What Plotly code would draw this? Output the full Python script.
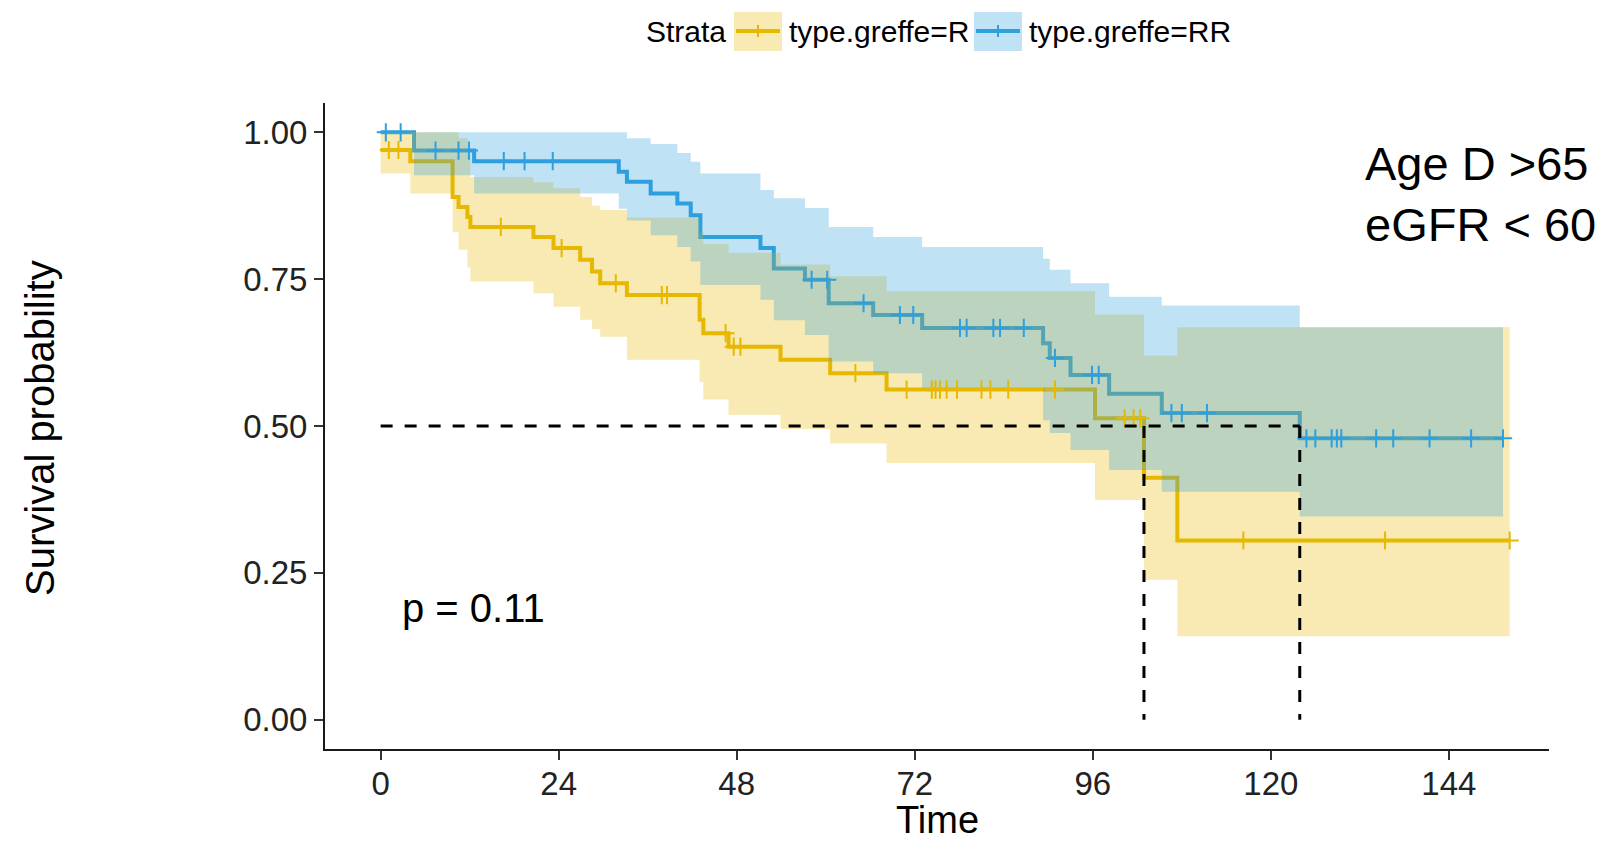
import numpy as np
import plotly.graph_objects as go

# ---------------- data ----------------
# type.greffe = R
r_time  = [0, 4.0, 9.7, 10.5, 11.7, 12.1, 20.6, 23.3, 26.9, 28.5, 29.6, 33.2, 43.0, 43.5, 46.9, 53.9, 60.6, 68.2, 96.3, 102.9, 107.4]
r_surv  = [0.970, 0.951, 0.890, 0.873, 0.856, 0.839, 0.822, 0.803, 0.783, 0.763, 0.743, 0.723, 0.681, 0.658, 0.635, 0.613, 0.590, 0.562, 0.513, 0.412, 0.305]
r_upper = [1.0, 1.0, 1.0, 0.99, 0.96, 0.924, 0.915, 0.905, 0.89, 0.875, 0.868, 0.855, 0.83, 0.81, 0.795, 0.775, 0.755, 0.73, 0.69, 0.62, 0.668]
r_lower = [0.930, 0.896, 0.83, 0.80, 0.77, 0.746, 0.726, 0.703, 0.681, 0.665, 0.652, 0.613, 0.575, 0.545, 0.519, 0.495, 0.47, 0.437, 0.374, 0.238, 0.142]
r_censor = [1.1, 2.4, 16.2, 24.4, 31.7, 37.9, 38.6, 46.5, 47.6, 48.5, 64.0, 70.9, 74.3, 74.8, 75.4,
            76.3, 77.7, 81.0, 82.2, 84.6, 90.9, 100.3, 101.5, 102.4, 116.3, 135.4, 152.2]
r_end = 152.2
r_median = 102.9

# type.greffe = RR
rr_time  = [0, 4.5, 12.6, 32.1, 33.2, 36.4, 40.0, 41.8, 43.1, 51.2, 53.0, 57.2, 60.4, 66.4, 73.0, 89.3, 90.2, 93.0, 98.2, 105.3, 123.9]
rr_surv  = [1.0, 0.969, 0.951, 0.933, 0.916, 0.896, 0.879, 0.859, 0.822, 0.803, 0.768, 0.749, 0.709, 0.689, 0.667, 0.641, 0.616, 0.587, 0.555, 0.522, 0.479]
rr_upper = [1.0, 1.0, 1.0, 1.0, 0.99, 0.98, 0.965, 0.95, 0.93, 0.902, 0.888, 0.871, 0.839, 0.822, 0.805, 0.785, 0.766, 0.743, 0.720, 0.705, 0.668]
rr_lower = [1.0, 0.927, 0.896, 0.87, 0.85, 0.825, 0.805, 0.78, 0.74, 0.715, 0.68, 0.655, 0.61, 0.59, 0.565, 0.51, 0.488, 0.459, 0.425, 0.388, 0.346]
rr_censor = [0.7, 2.7, 7.4, 10.5, 11.9, 16.6, 19.4, 23.2, 58.1, 60.2, 65.1, 70.0, 71.8, 78.1, 79.0, 82.6,
             83.5, 86.7, 90.9, 95.9, 96.8, 106.6, 108.0, 111.4, 124.8, 126.0, 128.2, 128.9, 129.5,
             134.2, 136.5, 141.4, 147.0, 151.3]
rr_end = 151.3
rr_median = 123.9

x_ticks = [0, 24, 48, 72, 96, 120, 144]
y_ticks = [0, 0.25, 0.5, 0.75, 1.0]
strata_names = ["type.greffe=R", "type.greffe=RR"]
line_colors = ["#E7B800", "#2E9FDF"]
fill_colors = ["rgba(231,184,0,0.3)", "rgba(46,159,223,0.3)"]
p_text = "p = 0.11"
note_text = "Age D >65<br>eGFR < 60"

FONT = "Liberation Sans, Arial, Helvetica, sans-serif"

# ---------------- figure geometry ----------------
W, H = 1614, 841
L, R, T, B = 325, 65, 103, 92
PW, PH = W - L - R, H - T - B


def px(x):
    return (x - L) / PW


def py(y):
    return (H - B - y) / PH


groups = [
    (r_time, r_surv, r_upper, r_lower, r_censor, r_end),
    (rr_time, rr_surv, rr_upper, rr_lower, rr_censor, rr_end),
]

fig = go.Figure()

# step curves (drawn first: ribbons are painted over them, as in survminer)
for i, (t, s, u, l, c, e) in enumerate(groups):
    fig.add_trace(go.Scatter(
        x=list(t) + [e], y=list(s) + [s[-1]], mode="lines",
        line=dict(color=line_colors[i], width=4, shape="hv"),
        showlegend=False, hoverinfo="skip"))

# confidence ribbons
for i, (t, s, u, l, c, e) in enumerate(groups):
    fig.add_trace(go.Scatter(
        x=list(t) + [e], y=list(l) + [l[-1]], mode="lines",
        line=dict(width=0, shape="hv", color=line_colors[i]),
        showlegend=False, hoverinfo="skip"))
    fig.add_trace(go.Scatter(
        x=list(t) + [e], y=list(u) + [u[-1]], mode="lines",
        line=dict(width=0, shape="hv", color=line_colors[i]),
        fill="tonexty", fillcolor=fill_colors[i],
        showlegend=False, hoverinfo="skip"))

# censor marks
for i, (t, s, u, l, c, e) in enumerate(groups):
    ta = np.array(t)
    sa = np.array(s)
    idx = np.searchsorted(ta, np.array(c), side="right") - 1
    fig.add_trace(go.Scatter(
        x=c, y=sa[idx], mode="markers",
        marker=dict(symbol="cross-thin", size=13, line=dict(color=line_colors[i], width=2)),
        showlegend=False, hoverinfo="skip"))

# median survival lines
dash = dict(color="black", width=3, dash="12px,12px")
fig.add_trace(go.Scatter(x=[0, max(r_median, rr_median)], y=[0.5, 0.5], mode="lines",
                         line=dash, showlegend=False, hoverinfo="skip"))
for m in (r_median, rr_median):
    fig.add_trace(go.Scatter(x=[m, m], y=[0.5, 0], mode="lines",
                             line=dash, showlegend=False, hoverinfo="skip"))

# ---------------- annotations ----------------
ann = []
ann.append(dict(x=2.6, y=0.19, xref="x", yref="y", text=p_text, showarrow=False,
                xanchor="left", yanchor="middle", font=dict(size=40, color="black", family=FONT)))
ann.append(dict(x=px(1363), y=py(194), xref="paper", yref="paper", text=note_text, showarrow=False,
                xanchor="left", yanchor="middle", align="left",
                font=dict(size=47, color="black", family=FONT)))
ann.append(dict(x=px(937), y=py(820), xref="paper", yref="paper", text="Time", showarrow=False,
                xanchor="center", yanchor="middle", font=dict(size=38, color="black", family=FONT)))
ann.append(dict(x=px(40), y=py(428), xref="paper", yref="paper", text="Survival probability",
                showarrow=False, textangle=-90, xanchor="center", yanchor="middle",
                font=dict(size=40, color="black", family=FONT)))

# legend (custom, ggplot-like keys)
shapes = []
ann.append(dict(x=px(644), y=py(31), xref="paper", yref="paper", text="Strata", showarrow=False,
                xanchor="left", yanchor="middle", font=dict(size=30, color="black", family=FONT)))
key_left = [734, 974]
text_left = [787, 1027]
for i in range(2):
    x0, x1 = key_left[i], key_left[i] + 48
    shapes.append(dict(type="rect", xref="paper", yref="paper", x0=px(x0), x1=px(x1),
                       y0=py(51), y1=py(12), fillcolor=fill_colors[i], line=dict(width=0), layer="above"))
    shapes.append(dict(type="line", xref="paper", yref="paper", x0=px(x0 + 2), x1=px(x1 - 2),
                       y0=py(31), y1=py(31), line=dict(color=line_colors[i], width=4), layer="above"))
    shapes.append(dict(type="line", xref="paper", yref="paper", x0=px((x0 + x1) / 2), x1=px((x0 + x1) / 2),
                       y0=py(25), y1=py(37), line=dict(color=line_colors[i], width=2), layer="above"))
    ann.append(dict(x=px(text_left[i]), y=py(31), xref="paper", yref="paper", text=strata_names[i],
                    showarrow=False, xanchor="left", yanchor="middle",
                    font=dict(size=30, color="black", family=FONT)))

axis_common = dict(showline=True, linecolor="#1a1a1a", linewidth=2, mirror=False, showgrid=False,
                   zeroline=False, ticks="outside", ticklen=9, tickwidth=2, tickcolor="#333333",
                   tickfont=dict(size=33, color="#222222", family=FONT))

fig.update_layout(
    width=W, height=H,
    margin=dict(l=L, r=R, t=T, b=B, autoexpand=False),
    paper_bgcolor="white", plot_bgcolor="white",
    showlegend=False,
    font=dict(family=FONT),
    xaxis=dict(range=[-7.5, 157.5], tickvals=x_ticks, ticktext=[str(v) for v in x_ticks],
               ticklabelstandoff=-5, **axis_common),
    yaxis=dict(range=[-0.05, 1.05], tickvals=y_ticks, ticktext=["%.2f" % v for v in y_ticks], **axis_common),
    annotations=ann, shapes=shapes,
)

fig.write_html("out.html")
